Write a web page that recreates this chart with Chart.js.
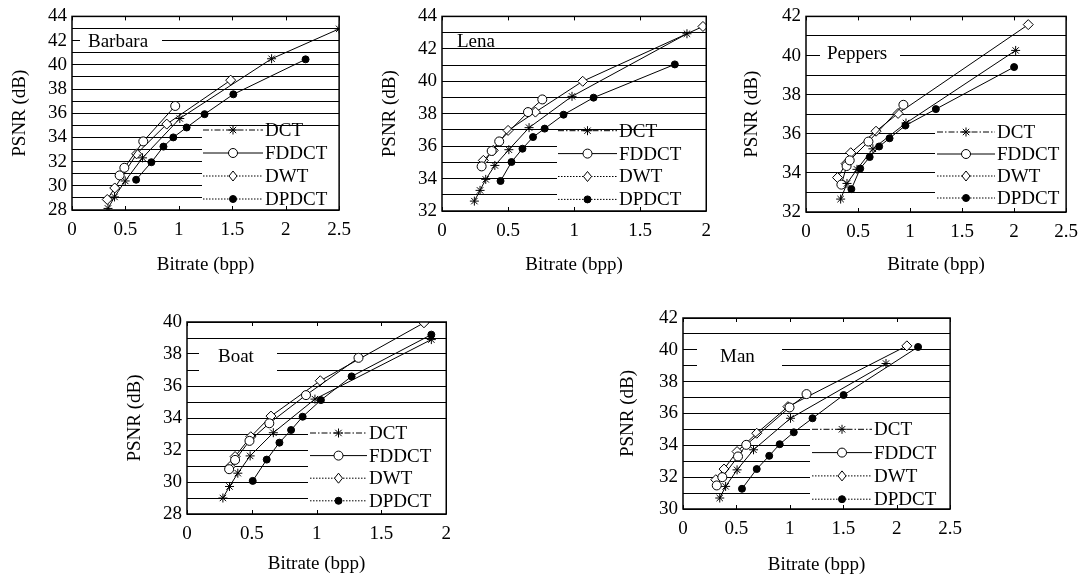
<!DOCTYPE html>
<html>
<head>
<meta charset="utf-8">
<script src="https://cdn.jsdelivr.net/npm/chart.js@4.4.1/dist/chart.umd.min.js"></script>
<style>
  html, body { margin: 0; padding: 0; background: #fff; }
  body { width: 1087px; height: 581px; position: relative; overflow: hidden; }
  canvas { position: absolute; }
</style>
</head>
<body>
<canvas id="barbara" width="360" height="280" style="left:0px;top:0px"></canvas>
<canvas id="lena" width="350" height="280" style="left:370px;top:0px"></canvas>
<canvas id="peppers" width="353" height="280" style="left:734px;top:0px"></canvas>
<canvas id="boat" width="345" height="281" style="left:115px;top:300px"></canvas>
<canvas id="man" width="360" height="281" style="left:611px;top:300px"></canvas>
<script>
'use strict';

// данные: [bitrate (bpp), PSNR (dB)]
const seriesNames = ['DCT', 'FDDCT', 'DWT', 'DPDCT'];

const barbaraDCT = [[0.337, 28.13], [0.398, 29.08], [0.498, 30.4], [0.66, 32.31], [1.009, 35.56], [1.868, 40.5], [2.5, 42.97]];
const barbaraFDDCT = [[0.446, 30.86], [0.49, 31.49], [0.667, 33.67], [0.966, 36.6]];
const barbaraDWT = [[0.33, 28.87], [0.4, 29.82], [0.605, 32.64], [0.887, 35.1], [1.485, 38.73]];
const barbaraDPDCT = [[0.6, 30.5], [0.743, 31.95], [0.856, 33.24], [0.948, 34.0], [1.073, 34.82], [1.241, 35.92], [1.51, 37.56], [2.186, 40.45]];

const lenaDCT = [[0.245, 32.61], [0.288, 33.27], [0.331, 33.95], [0.4, 34.81], [0.506, 35.78], [0.659, 37.14], [0.984, 39.07], [1.854, 42.93]];
const lenaFDDCT = [[0.3, 34.75], [0.376, 35.7], [0.433, 36.29], [0.651, 38.1], [0.759, 38.88]];
const lenaDWT = [[0.313, 35.12], [0.388, 35.74], [0.5, 36.97], [0.707, 38.1], [1.065, 40.0], [1.975, 43.38]];
const lenaDPDCT = [[0.443, 33.85], [0.526, 35.02], [0.609, 35.84], [0.689, 36.56], [0.777, 37.08], [0.92, 37.94], [1.147, 38.99], [1.762, 41.04]];

const peppersDCT = [[0.333, 32.66], [0.394, 33.46], [0.49, 34.18], [0.643, 35.23], [0.961, 36.55], [2.015, 40.26]];
const peppersFDDCT = [[0.34, 33.4], [0.39, 34.35], [0.42, 34.64], [0.6, 35.6], [0.936, 37.48]];
const peppersDWT = [[0.303, 33.76], [0.385, 34.47], [0.43, 35.03], [0.673, 36.13], [0.885, 37.04], [2.136, 41.58]];
const peppersDPDCT = [[0.436, 33.17], [0.521, 34.22], [0.612, 34.81], [0.703, 35.35], [0.803, 35.77], [0.955, 36.42], [1.248, 37.26], [2.0, 39.41]];

const boatDCT = [[0.277, 29.0], [0.328, 29.72], [0.392, 30.55], [0.487, 31.63], [0.666, 33.08], [0.987, 35.18], [1.885, 38.9]];
const boatFDDCT = [[0.325, 30.8], [0.371, 31.38], [0.482, 32.57], [0.635, 33.67], [0.918, 35.43], [1.323, 37.76]];
const boatDWT = [[0.333, 30.97], [0.371, 31.59], [0.492, 32.83], [0.648, 34.12], [1.028, 36.33], [1.828, 39.95]];
const boatDPDCT = [[0.507, 30.07], [0.615, 31.4], [0.713, 32.46], [0.803, 33.25], [0.892, 34.08], [1.033, 35.12], [1.27, 36.6], [1.885, 39.21]];

const manDCT = [[0.344, 30.69], [0.399, 31.42], [0.506, 32.46], [0.66, 33.72], [1.006, 35.7], [1.9, 39.14]];
const manFDDCT = [[0.316, 31.48], [0.368, 32.0], [0.515, 33.3], [0.592, 34.03], [0.997, 36.38], [1.156, 37.22]];
const manDWT = [[0.307, 31.84], [0.384, 32.51], [0.506, 33.61], [0.69, 34.76], [0.982, 36.43], [2.095, 40.25]];
const manDPDCT = [[0.552, 31.27], [0.69, 32.51], [0.807, 33.34], [0.905, 34.07], [1.037, 34.82], [1.212, 35.7], [1.503, 37.16], [2.2, 40.18]];

// оформление серий
const seriesLooks = [
    { point: 'star', radius: 4.5, fill: '#000', dash: [6, 2, 1.5, 2] },
    { point: 'circle', radius: 4.5, fill: '#fff', dash: [] },
    { point: 'rectRot', radius: 5, fill: '#fff', dash: [1.5, 1.5] },
    { point: 'circle', radius: 3.5, fill: '#000', dash: [1.5, 1.5] }
];

const FONT = '"Liberation Serif", "Times New Roman", serif';

// раскладка панелей (координаты страницы)
const panels = [
    { id: 'barbara', name: 'Barbara', ox: 0, oy: 0, pad: { top: 15, right: 15 }, xAxisH: 70,
      xMax: 2.5, yMin: 28, yMax: 44, yTitlePad: 8.6, xTitlePad: 3.6,
      series: [barbaraDCT, barbaraFDDCT, barbaraDWT, barbaraDPDCT],
      labelBox: [80, 33, 162, 50], labelAt: [88, 42.5],
      legendX: 202, legendTop: 127, row0: 130, gap: 23, sampleX: 203, sampleLen: 60 },
    { id: 'lena', name: 'Lena', ox: 370, oy: 0, pad: { top: 16, right: 12 }, xAxisH: 69,
      xMax: 2, yMin: 32, yMax: 44, yTitlePad: 8.6, xTitlePad: 3.6,
      series: [lenaDCT, lenaFDDCT, lenaDWT, lenaDPDCT],
      labelBox: null, labelAt: [457, 42.5],
      legendX: 557, legendTop: 134, row0: 130.7, gap: 22.9, sampleX: 558, sampleLen: 59 },
    { id: 'peppers', name: 'Peppers', ox: 734, oy: 0, pad: { top: 15, right: 6 }, xAxisH: 68,
      xMax: 2.5, yMin: 32, yMax: 42, yTitlePad: 6.3, xTitlePad: 3.6,
      series: [peppersDCT, peppersFDDCT, peppersDWT, peppersDPDCT],
      labelBox: [820, 46, 900, 63], labelAt: [827, 54.3],
      legendX: 935, legendTop: 126, row0: 132, gap: 22, sampleX: 937, sampleLen: 58 },
    { id: 'boat', name: 'Boat', ox: 115, oy: 300, pad: { top: 22, right: 13 }, xAxisH: 67,
      xMax: 2, yMin: 28, yMax: 40, yTitlePad: 8.6, xTitlePad: 5.6,
      series: [boatDCT, boatFDDCT, boatDWT, boatDPDCT],
      labelBox: [199, 344, 277, 373], labelAt: [218, 357],
      legendX: 308, legendTop: 426, row0: 433, gap: 22.6, sampleX: 310, sampleLen: 57 },
    { id: 'man', name: 'Man', ox: 611, oy: 300, pad: { top: 18, right: 16 }, xAxisH: 72,
      xMax: 2.5, yMin: 30, yMax: 42, yTitlePad: 5.6, xTitlePad: 4.6,
      series: [manDCT, manFDDCT, manDWT, manDPDCT],
      labelBox: [697, 344, 782, 373], labelAt: [720, 357],
      legendX: 810, legendTop: 423, row0: 429.3, gap: 23.3, sampleX: 812, sampleLen: 60 }
];

function drawMarker(ctx, look, x, y) {
    const r = look.radius;
    ctx.save();
    ctx.setLineDash([]);
    ctx.lineWidth = 1;
    ctx.strokeStyle = '#000';
    ctx.fillStyle = look.fill;
    ctx.beginPath();
    if (look.point === 'star') {
        for (let k = 0; k < 4; k++) {
            const a = k * Math.PI / 4;
            ctx.moveTo(x - r * Math.cos(a), y - r * Math.sin(a));
            ctx.lineTo(x + r * Math.cos(a), y + r * Math.sin(a));
        }
        ctx.stroke();
    } else if (look.point === 'rectRot') {
        ctx.moveTo(x, y - r);
        ctx.lineTo(x + r * 0.8, y);
        ctx.lineTo(x, y + r);
        ctx.lineTo(x - r * 0.8, y);
        ctx.closePath();
        ctx.fill();
        ctx.stroke();
    } else {
        ctx.arc(x, y, r, 0, Math.PI * 2);
        ctx.fill();
        ctx.stroke();
    }
    ctx.restore();
}

// белые подложки под подписью и легендой, сама легенда, рамка
const panelPlugin = {
    id: 'panel',
    beforeDatasetsDraw(chart, args, o) {
        const ctx = chart.ctx;
        const a = chart.chartArea;
        ctx.save();
        ctx.fillStyle = '#fff';
        if (o.labelBox) {
            const b = o.labelBox;
            ctx.fillRect(b[0] - o.ox, b[1] - o.oy, b[2] - b[0], b[3] - b[1]);
        }
        const lx = o.legendX - o.ox;
        const ly = o.legendTop - o.oy;
        ctx.fillRect(lx, ly, a.right - lx, a.bottom - ly);
        ctx.restore();
    },
    afterDatasetsDraw(chart, args, o) {
        const ctx = chart.ctx;
        const a = chart.chartArea;
        ctx.save();
        ctx.font = '19px ' + FONT;
        ctx.fillStyle = '#000';
        ctx.textBaseline = 'middle';
        ctx.textAlign = 'left';
        ctx.fillText(o.name, o.labelAt[0] - o.ox, o.labelAt[1] - o.oy);

        seriesNames.forEach((name, i) => {
            const look = seriesLooks[i];
            const y = o.row0 + i * o.gap - o.oy;
            const x0 = o.sampleX - o.ox;
            ctx.beginPath();
            ctx.setLineDash(look.dash);
            ctx.lineWidth = 1;
            ctx.strokeStyle = '#000';
            ctx.moveTo(x0, y);
            ctx.lineTo(x0 + o.sampleLen, y);
            ctx.stroke();
            ctx.setLineDash([]);
            drawMarker(ctx, look, x0 + o.sampleLen / 2, y);
            ctx.fillStyle = '#000';
            ctx.fillText(name, x0 + o.sampleLen + 2, y + 1);
        });

        // рамка и внутренние засечки по оси X
        ctx.setLineDash([]);
        ctx.strokeStyle = '#000';
        ctx.lineWidth = 1.5;
        ctx.strokeRect(a.left, a.top, a.right - a.left, a.bottom - a.top);
        const xs = chart.scales.x;
        ctx.lineWidth = 1;
        ctx.beginPath();
        xs.ticks.forEach(t => {
            const px = Math.round(xs.getPixelForValue(t.value)) + 0.5;
            ctx.moveTo(px, a.bottom);
            ctx.lineTo(px, a.bottom - 4);
            ctx.moveTo(px, a.top);
            ctx.lineTo(px, a.top + 4);
        });
        ctx.stroke();
        ctx.restore();
    }
};

panels.forEach(p => {
    const datasets = p.series.map((pts, i) => ({
        label: seriesNames[i],
        data: pts.map(d => ({ x: d[0], y: d[1] })),
        showLine: true,
        borderColor: '#000',
        borderWidth: 1,
        tension: 0,
        pointStyle: seriesLooks[i].point,
        pointRadius: seriesLooks[i].radius,
        pointBackgroundColor: seriesLooks[i].fill,
        pointBorderColor: '#000',
        pointBorderWidth: 1
    }));

    new Chart(document.getElementById(p.id), {
        type: 'scatter',
        data: { datasets },
        plugins: [panelPlugin],
        options: {
            responsive: false,
            animation: false,
            events: [],
            layout: { padding: { left: 0, top: p.pad.top, right: p.pad.right, bottom: 0 } },
            plugins: {
                legend: { display: false },
                tooltip: { enabled: false },
                panel: p
            },
            scales: {
                x: {
                    type: 'linear',
                    min: 0,
                    max: p.xMax,
                    afterFit: s => { s.height = p.xAxisH; },
                    grid: { display: false, drawTicks: false },
                    border: { display: false },
                    ticks: {
                        stepSize: 0.5,
                        padding: 9,
                        color: '#000',
                        maxRotation: 0,
                        font: { family: FONT, size: 19 },
                        callback: v => String(v)
                    },
                    title: {
                        display: true,
                        text: 'Bitrate (bpp)',
                        color: '#000',
                        font: { family: FONT, size: 19 },
                        padding: { top: 0, bottom: p.xTitlePad }
                    }
                },
                y: {
                    min: p.yMin,
                    max: p.yMax,
                    afterFit: s => { s.width = 72; },
                    grid: { color: '#000', lineWidth: 1, drawTicks: false },
                    border: { display: false },
                    ticks: {
                        stepSize: 1,
                        autoSkip: false,
                        padding: 5,
                        color: '#000',
                        font: { family: FONT, size: 19 },
                        callback: v => (v % 2 === 0 ? String(v) : '')
                    },
                    title: {
                        display: true,
                        text: 'PSNR (dB)',
                        color: '#000',
                        font: { family: FONT, size: 19 },
                        padding: { top: p.yTitlePad, bottom: 0 }
                    }
                }
            }
        }
    });
});
</script>
</body>
</html>
